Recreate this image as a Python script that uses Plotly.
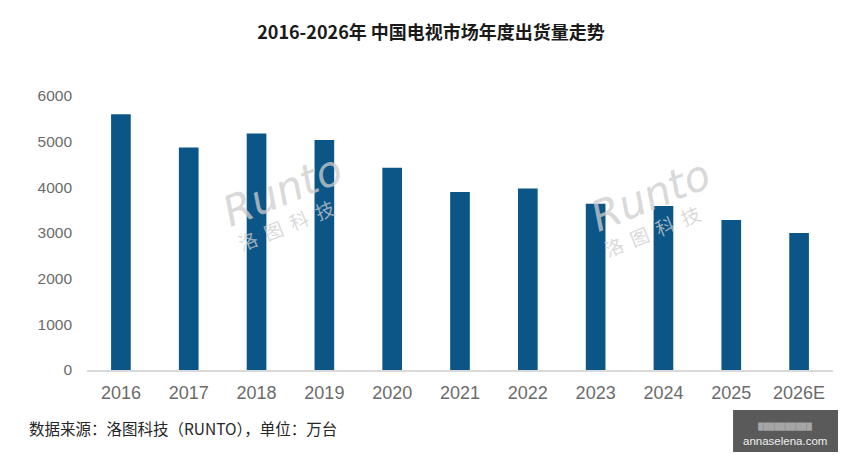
import plotly.graph_objects as go

years = ["2016", "2017", "2018", "2019", "2020", "2021", "2022", "2023", "2024", "2025", "2026E"]
shipments = [5600, 4870, 5180, 5035, 4430, 3900, 3975, 3640, 3590, 3285, 3000]
y_ticks = [0, 1000, 2000, 3000, 4000, 5000, 6000]

title_text = "2016-2026年 中国电视市场年度出货量走势"
source_text = "数据来源：洛图科技（RUNTO），单位：万台"
wm_latin = "Runto"
wm_cjk = "洛  图  科  技"

W, H = 849, 463
L, R, T, B = 86.6, 16, 96, 93
pw, ph = W - L - R, H - T - B

def px(x):
    return (x - L) / pw

def py(y):
    return (H - B - y) / ph

BAR = "#0c5587"
TICK = "#6b6b6b"
NUMFONT = "Liberation Sans Narrow, Liberation Sans, Arial, sans-serif"
CJK = "Noto Sans CJK SC, sans-serif"

fig = go.Figure(go.Bar(x=years, y=shipments, marker=dict(color=BAR, line=dict(width=0)), width=0.29))

fig.update_layout(
    width=W, height=H,
    margin=dict(l=L, r=R, t=T, b=B),
    paper_bgcolor="white", plot_bgcolor="white",
    showlegend=False,
    title=dict(text="<b>" + title_text + "</b>", x=431 / W, xref="container", xanchor="center",
               y=1 - 33 / H, yref="container", yanchor="middle",
               font=dict(family=CJK, size=18, color="#1a1a1a")),
    xaxis=dict(type="category", showgrid=False, showline=True, linecolor="#d9d9d9", linewidth=1.5,
               ticks="", tickfont=dict(family=NUMFONT, size=18, color=TICK), ticklabelstandoff=6,
               range=[-0.5, len(years) - 0.5]),
    yaxis=dict(range=[0, 6000], tickvals=y_ticks, showgrid=False, zeroline=False, showline=False,
               ticks="", tickfont=dict(family=NUMFONT, size=15.5, color=TICK), ticklabelstandoff=14),
)

annotations = [
    dict(text=source_text, xref="paper", yref="paper", x=px(27), y=py(428), xanchor="left", yanchor="middle",
         showarrow=False, font=dict(family=CJK, size=15.5, color="#262626")),
]
for cx, cy, cx2, cy2 in [(282, 190, 286, 224), (650, 195, 652, 230)]:
    annotations.append(dict(text="<i>" + wm_latin + "</i>", xref="paper", yref="paper", x=px(cx), y=py(cy),
                            xanchor="center", yanchor="middle",
                            showarrow=False, textangle=-22,
                            font=dict(family="DejaVu Sans, sans-serif", size=42, color="rgba(205,205,205,0.75)")))
    annotations.append(dict(text=wm_cjk, xref="paper", yref="paper", x=px(cx2), y=py(cy2),
                            xanchor="center", yanchor="middle",
                            showarrow=False, textangle=-22,
                            font=dict(family=CJK, size=19, color="rgba(205,205,205,0.75)")))
annotations.append(dict(text="▒▒▒▒▒▒▒▒▒▒", xref="paper", yref="paper", x=px(785), y=py(426),
                        xanchor="center", yanchor="middle",
                        showarrow=False, font=dict(family="DejaVu Sans", size=7, color="#dddddd")))
annotations.append(dict(text="annaselena.com", xref="paper", yref="paper", x=px(785), y=py(441),
                        xanchor="center", yanchor="middle",
                        showarrow=False, font=dict(family="Liberation Sans, Arial", size=11.5, color="#eeeeee")))
fig.update_layout(annotations=annotations)
fig.add_shape(type="rect", xref="paper", yref="paper", x0=px(733), x1=px(838), y0=py(452), y1=py(410),
              fillcolor="#5a5a5a", line=dict(width=0), layer="above")

fig.write_html("out.html")
